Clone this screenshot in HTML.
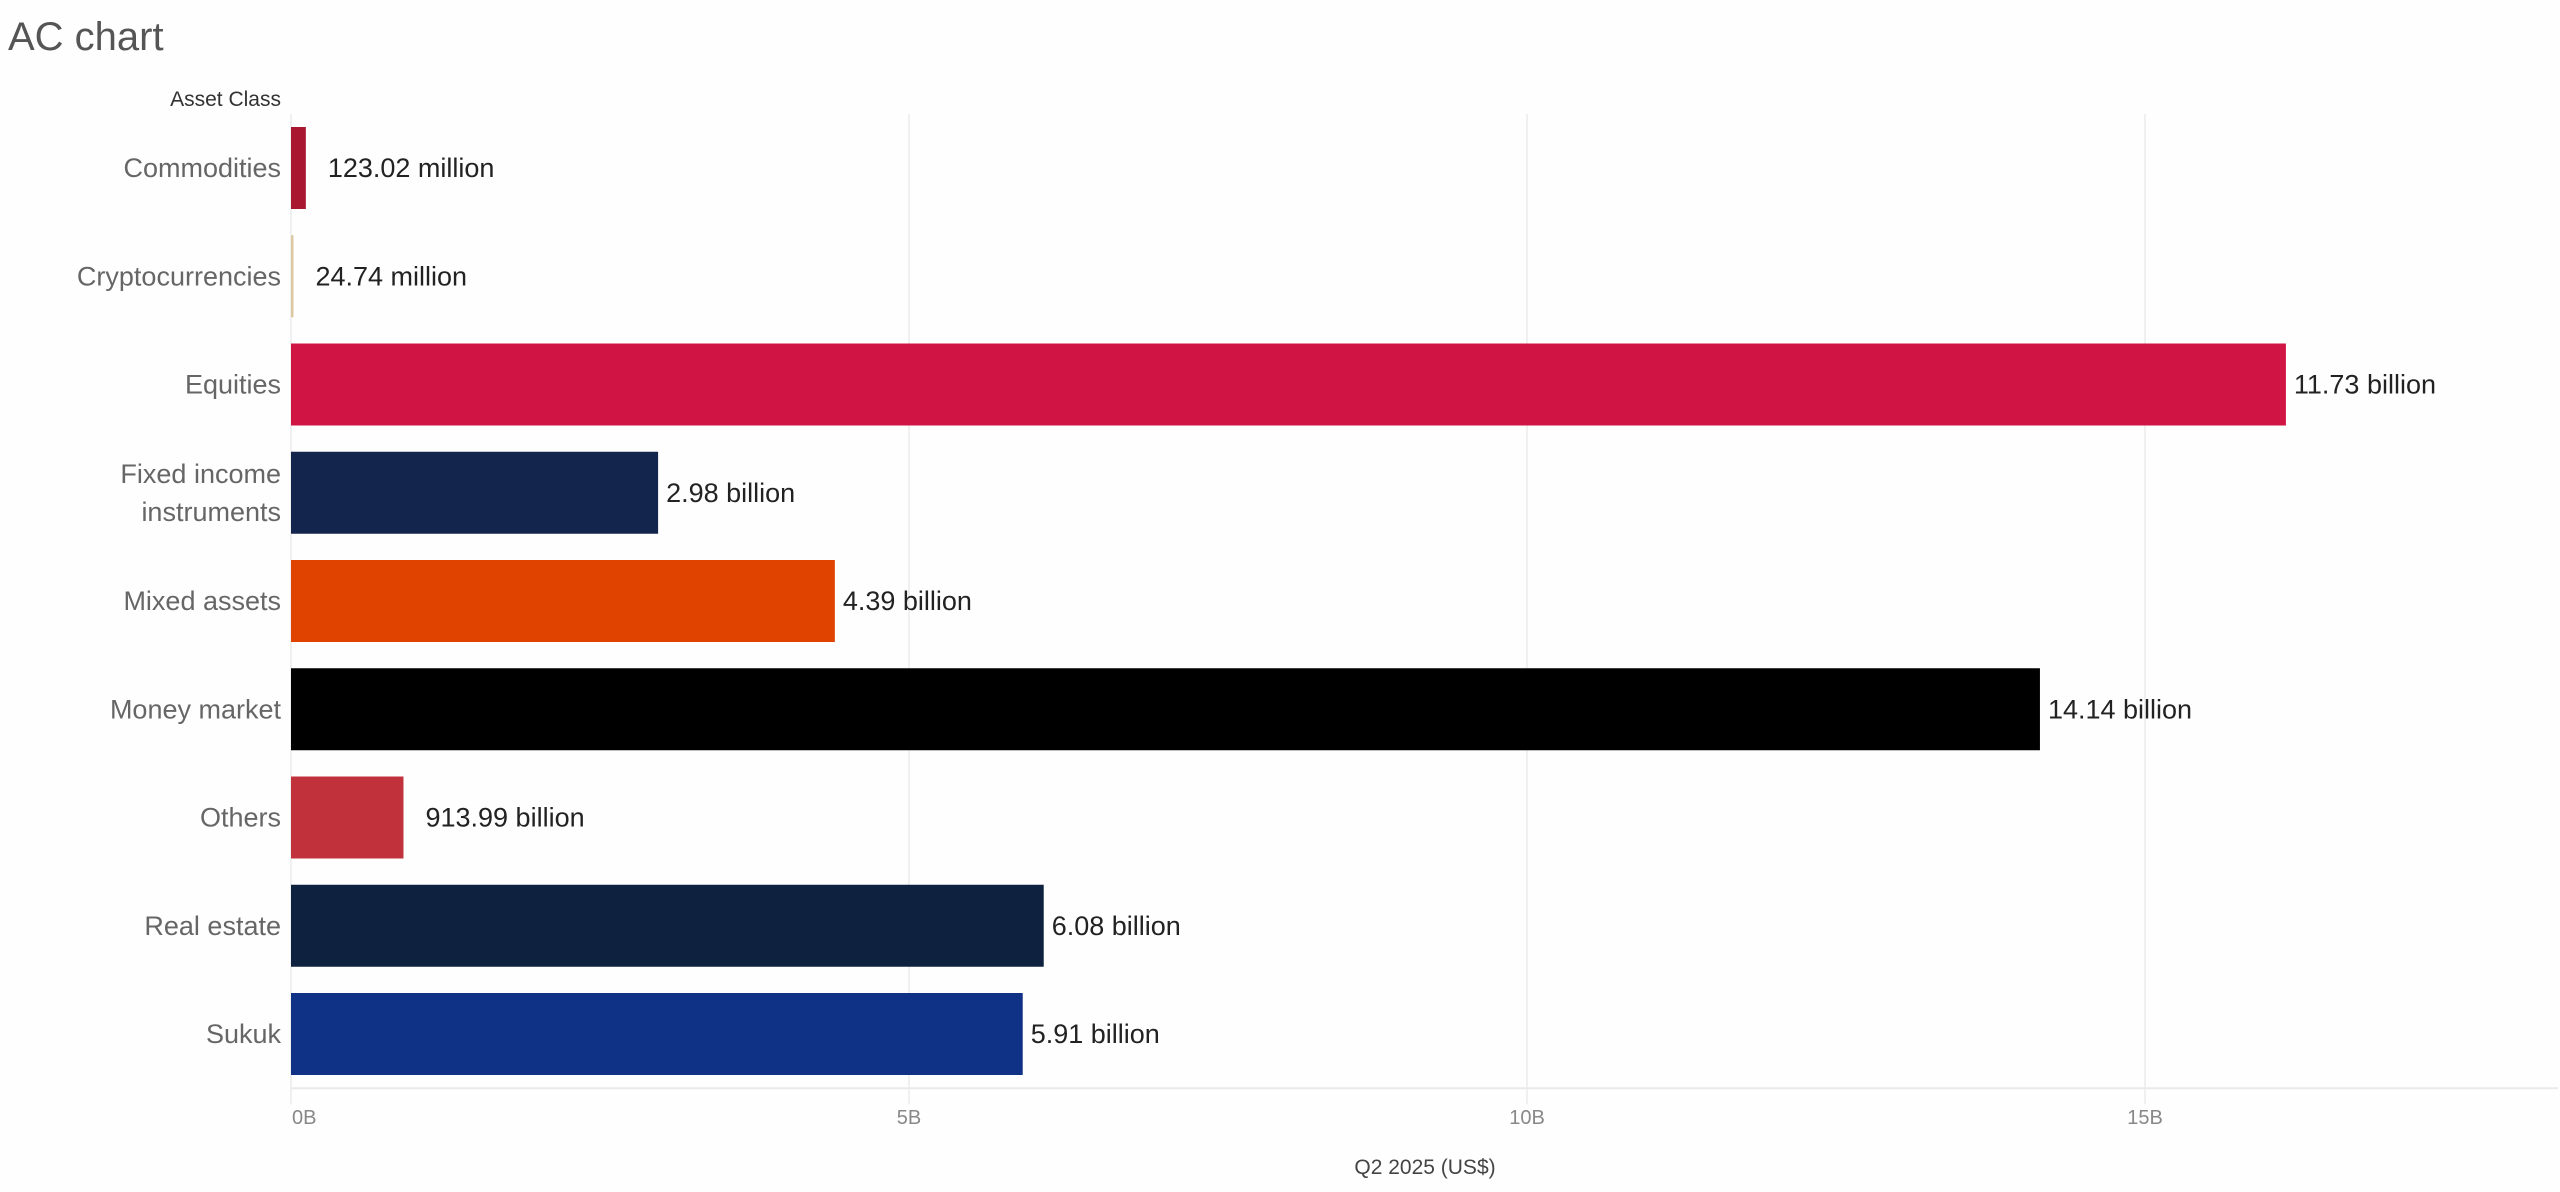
<!DOCTYPE html>
<html><head><meta charset="utf-8"><style>
html,body{margin:0;padding:0;background:#fefefe;}
svg{display:block;font-family:"Liberation Sans",sans-serif;}
</style></head><body>
<svg id="chart" width="2560" height="1192" viewBox="0 0 2560 1192">
<rect x="0" y="0" width="2560" height="1192" fill="#fefefe"/>
<text x="8" y="50" font-size="40" fill="#555">AC chart</text>
<text x="281" y="106" font-size="21" fill="#333" text-anchor="end">Asset Class</text>
<g id="grid"></g><g id="bars"></g><g id="axis"></g>
<text x="1425" y="1174" font-size="21" fill="#444" text-anchor="middle">Q2 2025 (US$)</text>
</svg>
<script>
const categories = ["Commodities","Cryptocurrencies","Equities","Fixed income instruments","Mixed assets","Money market","Others","Real estate","Sukuk"];
const values = [0.12,0.02,16.14,2.97,4.40,14.15,0.91,6.09,5.92];
const valueLabels = ["123.02 million","24.74 million","11.73 billion","2.98 billion","4.39 billion","14.14 billion","913.99 billion","6.08 billion","5.91 billion"];
const colors = ["#a8162f","#dcc8a0","#d01443","#14254d","#e04300","#000000","#c0313b","#0e223f","#0f3286"];
const ticks = [0,5,10,15];
const tickLabels = ["0B","5B","10B","15B"];

const NS="http://www.w3.org/2000/svg";
const x0=291, pxPerB=123.6, plotTop=114, band=108.25, inset=13, bh=82, plotRight=2558;
const xs=v=>x0+v*pxPerB;
const ys=i=>plotTop+i*band;
function mk(tag,attrs,parent){const e=document.createElementNS(NS,tag);for(const k in attrs)e.setAttribute(k,attrs[k]);parent.appendChild(e);return e;}
const gridG=document.getElementById('grid'),barsG=document.getElementById('bars'),axisG=document.getElementById('axis');
const plotBottom=ys(categories.length);
ticks.forEach((t,i)=>{
  const g=mk('line',{x1:xs(t),x2:xs(t),y1:plotTop,y2:plotBottom+16,stroke:'#ececec','stroke-width':1.5},gridG);
  
  
  const tl=mk('text',{x:xs(t)+(t===0?1:0),y:1124,'font-size':20,fill:'#888','text-anchor':t===0?'start':'middle'},axisG);
  tl.textContent=tickLabels[i];
  
  
});
const bl=mk('line',{x1:x0,x2:plotRight,y1:plotBottom,y2:plotBottom,stroke:'#eaeaea','stroke-width':2},gridG);


categories.forEach((c,i)=>{
  const y=ys(i)+inset, cy=ys(i)+band/2;
  const w=Math.max(xs(values[i])-x0,2);
  const r=mk('rect',{x:x0,y:y,width:w,height:bh,fill:colors[i]},barsG);
  
  
  const lab=mk('text',{x:x0-10,'font-size':27,fill:'#666','text-anchor':'end'},axisG);
  
  
  if(c==="Fixed income instruments"){
    lab.setAttribute('y',cy-10);
    const t1=mk('tspan',{x:x0-10,dy:0},lab);t1.textContent="Fixed income";
    const t2=mk('tspan',{x:x0-10,dy:38},lab);t2.textContent="instruments";
  } else {lab.setAttribute('y',cy+9);lab.textContent=c;}
  const off=w<130?22:8;
  const vl=mk('text',{x:x0+w+off,y:cy+9,'font-size':27,fill:'#222'},barsG);
  vl.textContent=valueLabels[i];
  
  
});
</script>
</body></html>
